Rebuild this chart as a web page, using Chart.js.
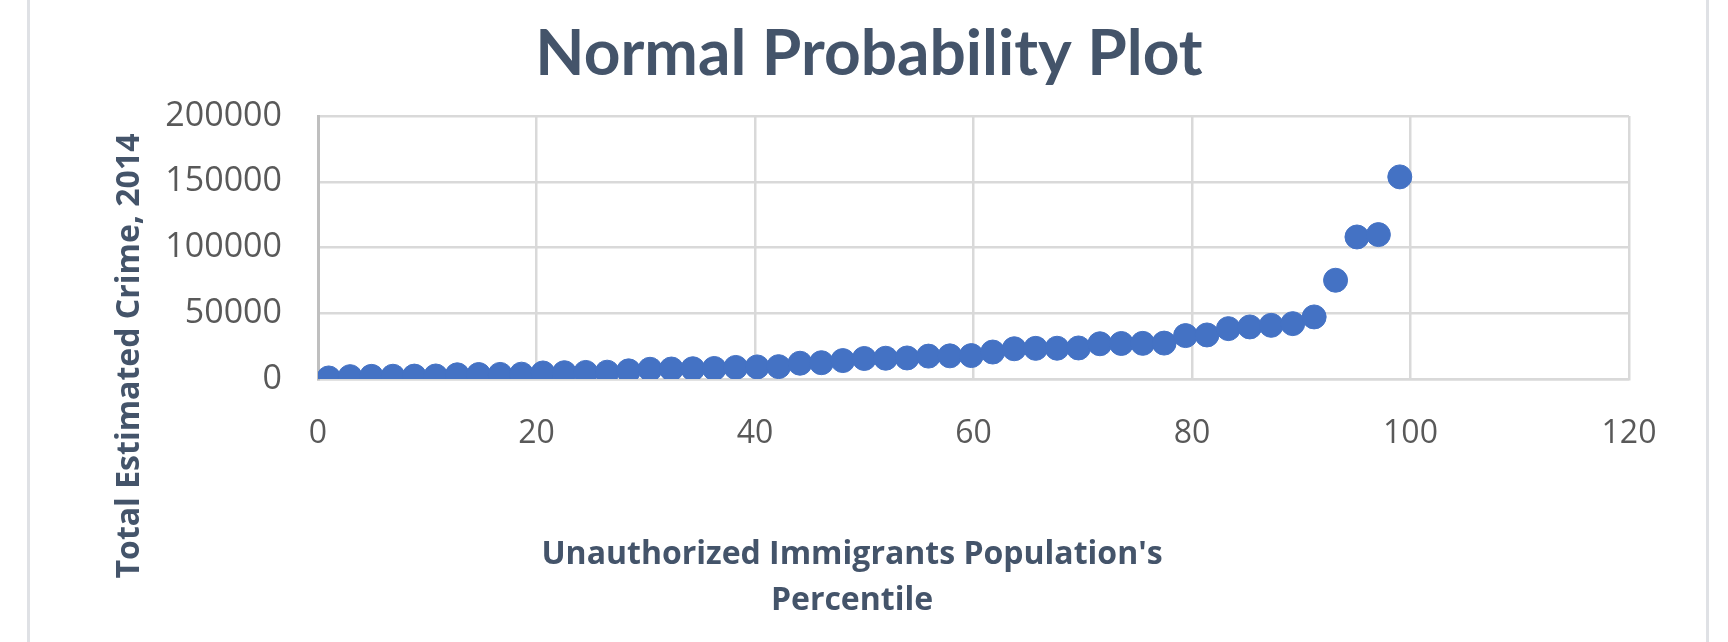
<!DOCTYPE html>
<html>
<head>
<meta charset="utf-8">
<script src="https://cdn.jsdelivr.net/npm/chart.js@4"></script>
<style>
  html, body { margin: 0; padding: 0; background: #ffffff; }
  #wrap { position: relative; width: 1728px; height: 642px; }
  #frame { position: absolute; left: 27px; top: 0; width: 1676px; height: 642px;
           border-left: 3px solid #dfe1e5; border-right: 3px solid #dfe1e5; }
  canvas { position: absolute; left: 0; top: 0; }
</style>
</head>
<body>
<div id="wrap">
  <div id="frame"></div>
  <canvas id="chart" width="1728" height="642"></canvas>
</div>
<script>
// percentile of each observation (x) and sorted total crime (y)
const percentiles = [0.98, 2.94, 4.90, 6.86, 8.82, 10.78, 12.75, 14.71, 16.67, 18.63,
  20.59, 22.55, 24.51, 26.47, 28.43, 30.39, 32.35, 34.31, 36.27, 38.24,
  40.20, 42.16, 44.12, 46.08, 48.04, 50.00, 51.96, 53.92, 55.88, 57.84,
  59.80, 61.76, 63.73, 65.69, 67.65, 69.61, 71.57, 73.53, 75.49, 77.45,
  79.41, 81.37, 83.33, 85.29, 87.25, 89.22, 91.18, 93.14, 95.10, 97.06, 99.02];
const totalCrime = [800, 1800, 2000, 2100, 2200, 2300, 3200, 3400, 3500, 3700,
  4600, 4800, 5000, 5200, 6200, 7400, 7600, 7800, 8000, 8800,
  9200, 9400, 12000, 12400, 14000, 15600, 15800, 16000, 17400, 17600,
  17800, 20500, 23000, 23300, 23400, 23600, 26800, 27000, 27100, 27300,
  33000, 33500, 38300, 39600, 40800, 42100, 47200, 75100, 108000, 109800, 153700];
const xTicks = [0, 20, 40, 60, 80, 100, 120];
const yTicks = [0, 50000, 100000, 150000, 200000];

const chartTitle = 'Normal Probability Plot';
const xTitle = ["Unauthorized Immigrants Population's", 'Percentile'];
const yTitle = 'Total Estimated Crime, 2014';

const titleColor = '#44546a';
const tickColor = '#595959';
const gridColor = '#d9d9d9';

// Excel places the titles relative to the whole chart, not the plot area
const chartTexts = {
  id: 'chartTexts',
  afterDraw(chart) {
    const ctx = chart.ctx;
    ctx.save();
    ctx.fillStyle = titleColor;
    ctx.textAlign = 'center';
    ctx.textBaseline = 'middle';
    ctx.font = 'bold 64px Lato';
    ctx.fillText(chartTitle, 869, 54);
    ctx.font = 'bold 32px "Open Sans"';
    ctx.fillText(xTitle[0], 852, 555);
    ctx.fillText(xTitle[1], 852, 601);
    ctx.translate(130, 356);
    ctx.rotate(-Math.PI / 2);
    ctx.fillText(yTitle, 0, 0);
    ctx.restore();
  }
};

const ctx = document.getElementById('chart').getContext('2d');
new Chart(ctx, {
  type: 'scatter',
  data: {
    datasets: [{
      data: percentiles.map((p, i) => ({ x: p, y: totalCrime[i] })),
      backgroundColor: '#4472c4',
      borderColor: '#4472c4',
      pointRadius: 12,
      pointHoverRadius: 12
    }]
  },
  options: {
    responsive: false,
    animation: false,
    layout: { padding: { left: 0, right: 99, top: 116, bottom: 0 } },
    plugins: {
      legend: { display: false },
      tooltip: { enabled: false },
      title: { display: false }
    },
    scales: {
      x: {
        type: 'linear',
        min: 0,
        max: 120,
        afterBuildTicks: s => { s.ticks = xTicks.map(v => ({ value: v })); },
        afterFit: s => { s.height = 263; },
        grid: { color: gridColor, lineWidth: 2.5, drawTicks: false },
        border: { color: gridColor, width: 2.5 },
        ticks: { color: tickColor, padding: 36, font: { family: 'Open Sans', size: 32 } }
      },
      y: {
        min: 0,
        max: 200000,
        afterBuildTicks: s => { s.ticks = yTicks.map(v => ({ value: v })); },
        afterFit: s => { s.width = 318; },
        grid: { color: gridColor, lineWidth: 2.5, drawTicks: false },
        border: { color: '#bfbfbf', width: 3 },
        ticks: {
          color: tickColor,
          padding: 36,
          font: { family: 'Open Sans', size: 34 },
          callback: v => String(v)
        }
      }
    }
  },
  plugins: [chartTexts]
});
</script>
</body>
</html>
